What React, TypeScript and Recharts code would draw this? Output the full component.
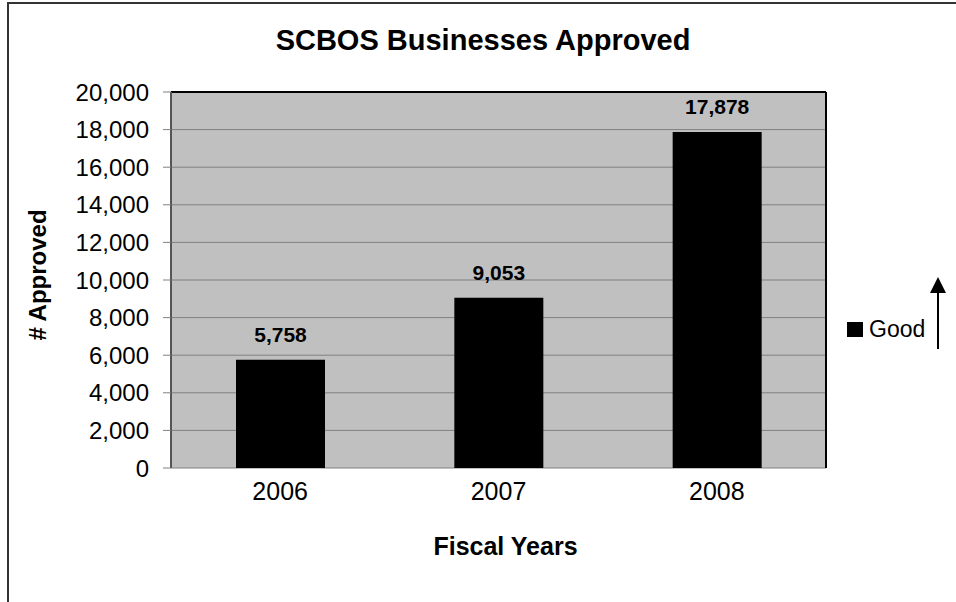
import {
  BarChart,
  Bar,
  XAxis,
  YAxis,
  CartesianGrid,
  LabelList,
  Label,
  ReferenceLine,
} from "recharts";

const years = ["2006", "2007", "2008"];
const approved = [5758, 9053, 17878];
const yTicks = [0, 2000, 4000, 6000, 8000, 10000, 12000, 14000, 16000, 18000, 20000];
const boundaryTicks = [0, 1, 2, 3];

const FONT = "'Liberation Sans', Arial, sans-serif";

const data = years.map((year, i) => ({ year, value: approved[i], pos: i + 0.5 }));

const fmt = (v: number) => v.toLocaleString("en-US");

function YTitle(props: any) {
  const { viewBox } = props;
  const x = viewBox.x + 37;
  const y = viewBox.y + viewBox.height / 2 - 5;
  return (
    <text
      x={x}
      y={y}
      transform={`rotate(-90, ${x}, ${y})`}
      textAnchor="middle"
      dominantBaseline="central"
      fontFamily={FONT}
      fontWeight="bold"
      fontSize={24}
      fill="#000"
    >
      # Approved
    </text>
  );
}

export default function App() {
  return (
    <div style={{ position: "absolute", left: 0, top: 0, width: 956, height: 602, background: "#fff", overflow: "hidden" }}>
      {/* frame */}
      <div
        style={{
          position: "absolute",
          left: 7,
          top: 2,
          width: 960,
          height: 610,
          borderTop: "2px solid #333",
          borderLeft: "2px solid #333",
        }}
      />

      {/* Title */}
      <div
        style={{
          position: "absolute",
          left: 0,
          width: 966,
          top: 24,
          textAlign: "center",
          fontFamily: FONT,
          fontWeight: "bold",
          fontSize: 29,
          color: "#000",
        }}
      >
        SCBOS Businesses Approved
      </div>

      <div style={{ position: "absolute", left: 0, top: 0 }}>
        <BarChart
          width={956}
          height={602}
          data={data}
          margin={{ top: 92, right: 130, left: 0, bottom: 0 }}
        >
          <CartesianGrid
            vertical={false}
            fill="#C0C0C0"
            stroke="#808080"
            yAxisId="left"
          />

          {/* boundary tick marks, Excel style */}
          <XAxis
            xAxisId="b"
            type="number"
            dataKey="pos"
            domain={[0, 3]}
            ticks={boundaryTicks}
            tickFormatter={() => ""}
            tickSize={8}
            height={0}
            axisLine={{ stroke: "#555", strokeWidth: 2 }}
            tickLine={{ stroke: "#808080" }}
          />

          <XAxis
            dataKey="year"
            height={134}
            axisLine={false}
            tickLine={false}
            tickSize={0}
            tickMargin={14}
            tick={{ fontSize: 25, fontFamily: FONT, fill: "#000" }}
          >
            <Label
              value="Fiscal Years"
              position="insideTop"
              offset={69}
              dx={7}
              style={{ fontSize: 25, fontFamily: FONT, fontWeight: "bold", fill: "#000" }}
            />
          </XAxis>

          <YAxis
            yAxisId="left"
            width={171}
            domain={[0, 20000]}
            ticks={yTicks}
            tickFormatter={fmt}
            tickSize={8}
            tickMargin={14}
            interval={0}
            tick={{ fontSize: 24, fontFamily: FONT, fill: "#000" }}
            axisLine={{ stroke: "#555", strokeWidth: 2 }}
            tickLine={{ stroke: "#808080" }}
            label={<YTitle />}
          />

          <ReferenceLine yAxisId="left" y={20000} stroke="#000" strokeWidth={2} />
          <ReferenceLine yAxisId="left" xAxisId="b" x={3} stroke="#000" strokeWidth={2} />

          <Bar
            yAxisId="left"
            dataKey="value"
            fill="#000"
            barSize={89}
            isAnimationActive={false}
          >
            <LabelList
              dataKey="value"
              position="top"
              offset={18}
              formatter={(v: any) => fmt(Number(v))}
              style={{ fontSize: 21, fontFamily: FONT, fontWeight: "bold", fill: "#000" }}
            />
          </Bar>
        </BarChart>
      </div>

      {/* Legend */}
      <div
        style={{
          position: "absolute",
          left: 847,
          top: 316,
          display: "flex",
          alignItems: "center",
          fontFamily: FONT,
          fontSize: 23,
          color: "#000",
        }}
      >
        <span style={{ display: "inline-block", width: 16, height: 15, background: "#000", marginRight: 6 }} />
        <span>Good</span>
      </div>

      {/* arrow */}
      <svg style={{ position: "absolute", left: 925, top: 272 }} width={30} height={84}>
        <line x1={13} y1={18} x2={13} y2={77} stroke="#000" strokeWidth={2} />
        <polygon points="13,5 5,21 21,21" fill="#000" />
      </svg>
    </div>
  );
}
